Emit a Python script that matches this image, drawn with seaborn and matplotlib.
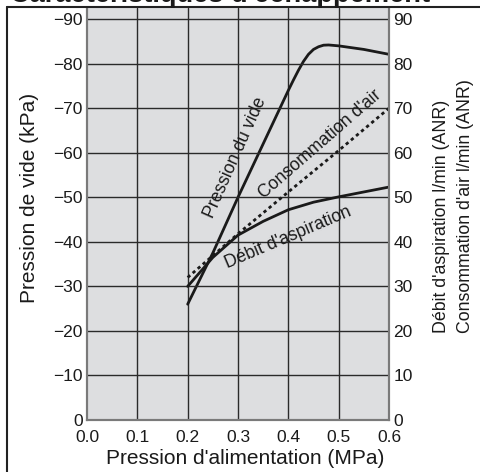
import numpy as np
import pandas as pd
import seaborn as sns
import matplotlib.pyplot as plt
from matplotlib.lines import Line2D

# Supply pressure (MPa) and the curves
p_vide = [0.20, 0.25, 0.30, 0.35, 0.40, 0.41, 0.42, 0.43, 0.44, 0.45, 0.46, 0.47,
          0.48, 0.50, 0.55, 0.60]
vide_kpa = [-26, -37.5, -50, -62, -74, -76.3, -78.5, -80.5, -82.1, -83.2, -83.8, -84.15,
            -84.2, -84.0, -83.2, -82.1]

p_debit = [0.20, 0.25, 0.30, 0.35, 0.40, 0.45, 0.50, 0.55, 0.60]
debit = [30, 36.5, 41.5, 44.6, 47.2, 48.9, 50.1, 51.2, 52.3]

p_conso = [0.20, 0.30, 0.40, 0.50, 0.60]
conso = [32, 41.8, 51.2, 60.5, 70]

x_ticks = [0.0, 0.1, 0.2, 0.3, 0.4, 0.5, 0.6]
y_ticks = [0, 10, 20, 30, 40, 50, 60, 70, 80, 90]

sns.set_theme(style="white")
plt.rcParams['font.family'] = ['Liberation Sans', 'DejaVu Sans']

fig = plt.figure(figsize=(4.8, 4.72), dpi=100)
ax = fig.add_axes([87/480, 1 - 420/472, 302/480, 412/472])
ax2 = ax.twinx()

ymax = 92.5
ax.set_facecolor('#dddee0')
ax.set_xlim(0, 0.6)
ax.set_ylim(0, -ymax)
ax2.set_ylim(0, ymax)

df_v = pd.DataFrame({'p': p_vide, 'v': vide_kpa})
df_d = pd.DataFrame({'p': p_debit, 'v': debit})
df_c = pd.DataFrame({'p': p_conso, 'v': conso})

sns.lineplot(data=df_v, x='p', y='v', ax=ax, color='#1a1a1a', lw=2.0)
sns.lineplot(data=df_d, x='p', y='v', ax=ax2, color='#1a1a1a', lw=2.0)
sns.lineplot(data=df_c, x='p', y='v', ax=ax2, color='#1a1a1a', lw=2.0,
             linestyle=(0, (1.2, 1.2)))

# grid
for xv in x_ticks[1:-1]:
    ax.axvline(xv, color='#2a2a2a', lw=1.0, zorder=0.5)
for yv in y_ticks[1:]:
    ax2.axhline(yv, color='#2a2a2a', lw=1.0, zorder=0.5)

ax.set_xticks(x_ticks)
ax.set_xticklabels([f"{v:.1f}" for v in x_ticks])
ax.set_yticks([-v for v in y_ticks])
ax2.set_yticks(y_ticks)
for a in (ax, ax2):
    a.tick_params(length=0, labelsize=12.5, pad=3, colors='#1a1a1a')
    for s in a.spines.values():
        s.set_color('#7a7a7a')
        s.set_linewidth(1.5)
    a.spines['top'].set_visible(False)
ax.tick_params(axis='x', pad=7)

ax.set_xlabel("Pression d'alimentation (MPa)", fontsize=15, color='#1a1a1a',
              ha='center', va='center')
ax.xaxis.set_label_coords((245 - 87) / 302, (420 - 458) / 412)
ax.set_ylabel("Pression de vide (kPa)", fontsize=15, color='#1a1a1a',
              ha='center', va='center')
ax.yaxis.set_label_coords((30 - 87) / 302, (420 - 198) / 412)
ax2.set_ylabel("")

# curve labels
ax2.text(0.295, 59, "Pression du vide", rotation=66, ha='center', va='center',
         fontsize=12.7, color='#1a1a1a', rotation_mode='anchor')
ax2.text(0.463, 62, "Consommation d'air", rotation=41, ha='center', va='center',
         fontsize=12.7, color='#1a1a1a', rotation_mode='anchor')
ax2.text(0.40, 41, "Débit d'aspiration", rotation=23, ha='center', va='center',
         fontsize=12.7, color='#1a1a1a', rotation_mode='anchor')

# right side labels
fig.text(441/480, 1 - 333/472, "Débit d'aspiration l/min (ANR)", rotation=90,
         rotation_mode='anchor', ha='left', va='center', fontsize=12.8, color='#1a1a1a')
fig.text(465/480, 1 - 333/472, "Consommation d'air l/min (ANR)", rotation=90,
         rotation_mode='anchor', ha='left', va='center', fontsize=12.8, color='#1a1a1a')

# cropped title and frame
fig.text(10/480, 1 - 2/472, "Caractéristiques d'échappement", ha='left', va='baseline',
         fontsize=19.6, fontweight='bold', color='#1a1a1a')
fig.add_artist(Line2D([7/480, 1], [1 - 7/472, 1 - 7/472], color='#222222', lw=1.5,
                      transform=fig.transFigure))
fig.add_artist(Line2D([7/480, 7/480], [0, 1 - 7/472], color='#222222', lw=1.5,
                      transform=fig.transFigure))

fig.savefig('out.png', dpi=100)
